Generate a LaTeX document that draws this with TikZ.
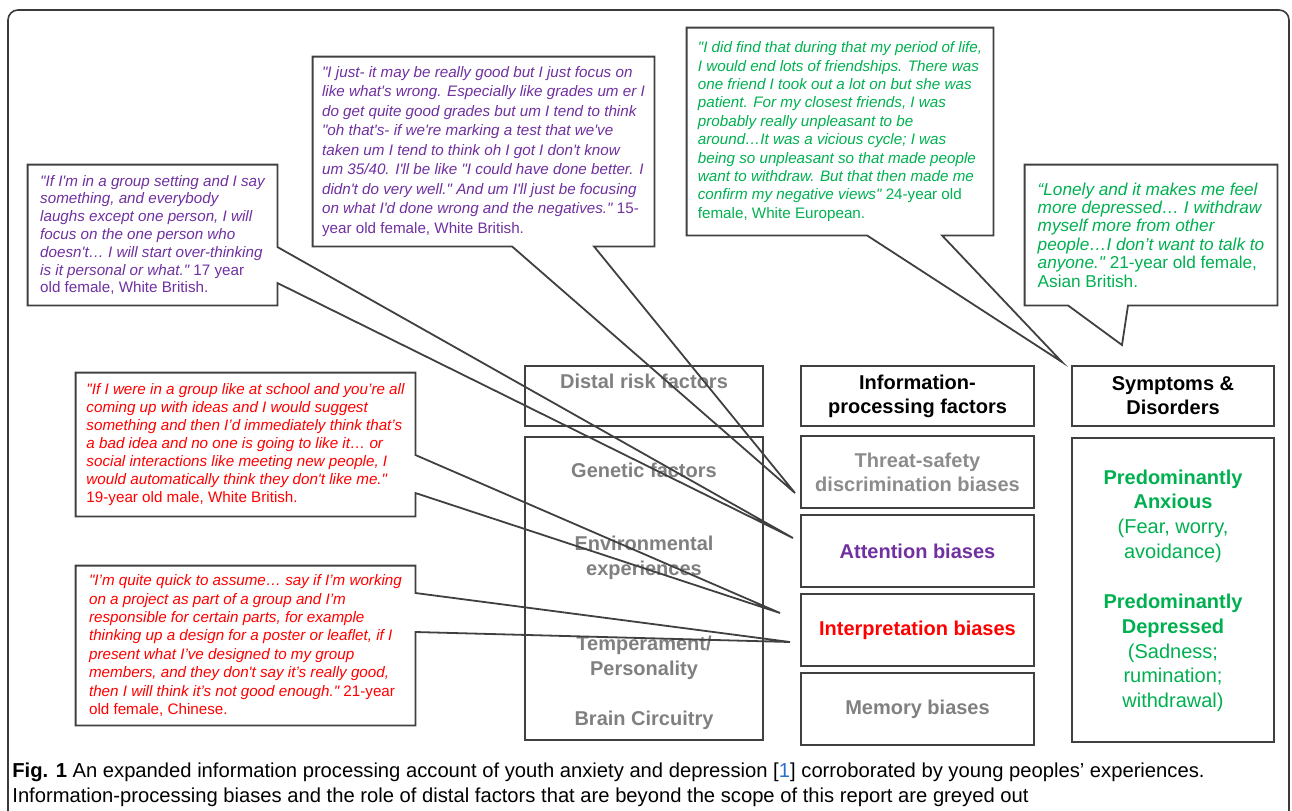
\documentclass[tikz,border=0pt]{standalone}
\usepackage{fontspec}
\setmainfont{Liberation Sans}[Ligatures=TeXOff]
\usetikzlibrary{positioning, calc}
\definecolor{quotepurple}{HTML}{7030A0}
\definecolor{quotegreen}{HTML}{00B050}
\definecolor{quotered}{HTML}{FF0000}
\definecolor{greyout}{HTML}{808080}
\definecolor{greylight}{HTML}{8C8C8C}
\definecolor{boxline}{HTML}{404040}
\definecolor{framegrey}{HTML}{3A3A3A}
\definecolor{citeblue}{HTML}{2A6FC9}
\tikzset{
  % Column boxes
  colbox/.style={
    rectangle, draw=boxline, line width=1pt, minimum width=#1,
    align=center, inner sep=0pt, font=\bfseries\fontsize{10}{12}\selectfont
  },
  colbox/.default=116.5pt,
  headbox/.style={colbox=#1, minimum height=30pt, text=black},
  biasbox/.style={colbox, minimum height=36pt},
  % Grey text inside the distal box
  distaltext/.style={align=center, text=greyout, font=\bfseries\fontsize{10}{12.5}\selectfont},
  symtext/.style={align=center, text=quotegreen, font=\fontsize{10}{12.35}\selectfont},
  % Quote callouts
  callout/.style 2 args={
    rectangle, minimum width=#1, minimum height=#2, align=left, inner sep=0pt,
    font=\itshape\fontsize{7.6}{9.2}\selectfont
  },
  calloutline/.style={draw=boxline, line width=0.9pt, line join=miter},
  captext/.style={anchor=north west, align=left, inner sep=0pt, font=\fontsize{10.1}{12.5}\selectfont},
}

\begin{document}
\begin{tikzpicture}[x=0.5pt, y=-0.5pt]
  \useasboundingbox (0,0) rectangle (1292,810);
  \draw[framegrey, line width=0.8pt, rounded corners=5pt] (8,830) -- (8,10) -- (1289,10) -- (1289,830);

  % three columns
  \node[headbox=119pt, text=greyout, text depth=15pt] (distal) at (644,396) {Distal risk factors};
  \node[colbox=119pt, minimum height=151.5pt, below=4.5pt of distal] (distalbody) {};
  \node[distaltext] (gen) at (644,470) {Genetic factors};
  \node[distaltext] (env) at (644,557.5) {Environmental\\experiences};
  \node[distaltext] (temp) at (644,657.5) {Temperament/\\Personality};
  \node[distaltext] (brain) at (644,720) {Brain Circuitry};

  \node[headbox=116.5pt] (info) at (917.5,396) {Information-\\processing factors};
  \node[biasbox, text=greylight, below=4pt of info] (threat) {Threat-safety\\discrimination biases};
  \node[biasbox, text=quotepurple, below=2.5pt of threat] (attention) {Attention biases};
  \node[biasbox, text=quotered, below=2.5pt of attention] (interp) {Interpretation biases};
  \node[biasbox, text=greyout, below=2.5pt of interp] (memory) {Memory biases};

  \node[headbox=101pt] (symptoms) at (1173,396) {Symptoms \&\\Disorders};
  \node[colbox=101pt, minimum height=152pt, below=5pt of symptoms] (symbody) {};
  \node[symtext] (anxious) at (1173,516) {\textbf{Predominantly}\\\textbf{Anxious}\\(Fear, worry,\\avoidance)};
  \node[symtext] (depressed) at (1173,653) {\textbf{Predominantly}\\\textbf{Depressed}\\(Sadness;\\rumination;\\withdrawal)};

  % quotes
  \node[callout={124.5pt}{70pt}, text=quotepurple, font=\itshape\fontsize{7.6}{8.9}\selectfont] (qa) at (152.5,235)
    {"If I'm in a group setting and I say\\something, and everybody\\laughs except one person, I will\\focus on the one person who\\doesn't… I will start over-thinking\\is it personal or what."\upshape{} 17 year\\\upshape old female, White British.};
  \node[callout={170.5pt}{94.5pt}, text=quotepurple, font=\itshape\fontsize{7.6}{9.75}\selectfont] (qb) at (483.5,151.5)
    {"I just- it may be really good but I just focus on\\like what's wrong. Especially like grades um er I\\do get quite good grades but um I tend to think\\"oh that's- if we're marking a test that we've\\taken um I tend to think oh I got I don't know\\um 35/40. I'll be like "I could have done better. I\\didn't do very well." And um I'll just be focusing\\on what I'd done wrong and the negatives."\upshape{} 15-\\\upshape year old female, White British.};
  \node[callout={153pt}{103.5pt}, text=quotegreen] (qc) at (840,131.5)
    {"I did find that during that my period of life,\\I would end lots of friendships. There was\\one friend I took out a lot on but she was\\patient. For my closest friends, I was\\probably really unpleasant to be\\around…It was a vicious cycle; I was\\being so unpleasant so that made people\\want to withdraw. But that then made me\\confirm my negative views"\upshape{} 24-year old\\\upshape female, White European.};
  \node[callout={126pt}{70pt}, text=quotegreen, font=\itshape\fontsize{8.6}{9.2}\selectfont] (qd) at (1151,235)
    {“Lonely and it makes me feel\\more depressed… I withdraw\\myself more from other\\people…I don’t want to talk to\\anyone."\upshape{} 21-year old female,\\\upshape Asian British.};
  \node[callout={169.5pt}{71.5pt}, text=quotered, font=\itshape\fontsize{7.6}{9}\selectfont] (qe) at (245.5,444.5)
    {"If I were in a group like at school and you’re all\\coming up with ideas and I would suggest\\something and then I’d immediately think that’s\\a bad idea and no one is going to like it… or\\social interactions like meeting new people, I\\would automatically think they don't like me."\\\upshape 19-year old male, White British.};
  \node[callout={169.5pt}{79.5pt}, text=quotered] (qf) at (245.5,645.5)
    {"I’m quite quick to assume… say if I’m working\\on a project as part of a group and I’m\\responsible for certain parts, for example\\thinking up a design for a poster or leaflet, if I\\present what I’ve designed to my group\\members, and they don't say it’s really good,\\then I will think it’s not good enough."\upshape{} 21-year\\\upshape old female, Chinese.};

  % callout tips
  \coordinate (tipa) at (793,538);
  \coordinate (tipb) at (795,493);
  \coordinate (tipc) at (1062,362);
  \coordinate (tipd) at (1122,345);
  \coordinate (tipe) at (780,613);
  \coordinate (tipf) at (790,642);

  \draw[calloutline] (qa.north west) -- (qa.north east) -- (qa.east |- 0,247) -- (tipa)
    -- (qa.east |- 0,283) -- (qa.south east) -- (qa.south west) -- cycle;
  \draw[calloutline] (qb.north west) -- (qb.north east) -- (qb.south east) -- (594,0 |- qb.south)
    -- (tipb) -- (512,0 |- qb.south) -- (qb.south west) -- cycle;
  \draw[calloutline] (qc.north west) -- (qc.north east) -- (qc.south east) -- (942,0 |- qc.south)
    -- (tipc) -- (867,0 |- qc.south) -- (qc.south west) -- cycle;
  \draw[calloutline] (qd.north west) -- (qd.north east) -- (qd.south east) -- (1128,0 |- qd.south)
    -- (tipd) -- (1068,0 |- qd.south) -- (qd.south west) -- cycle;
  \draw[calloutline] (qe.north west) -- (qe.north east) -- (qe.east |- 0,455) -- (tipe)
    -- (qe.east |- 0,493) -- (qe.south east) -- (qe.south west) -- cycle;
  \draw[calloutline] (qf.north west) -- (qf.north east) -- (qf.east |- 0,593) -- (tipf)
    -- (qf.east |- 0,632) -- (qf.south east) -- (qf.south west) -- cycle;

  % caption
  \node[captext] (caption) at (12,762)
    {\textbf{Fig. 1} An expanded information processing account of youth anxiety and depression [\textcolor{citeblue}{1}] corroborated by young peoples’ experiences.\\Information-processing biases and the role of distal factors that are beyond the scope of this report are greyed out};
\end{tikzpicture}
\end{document}
